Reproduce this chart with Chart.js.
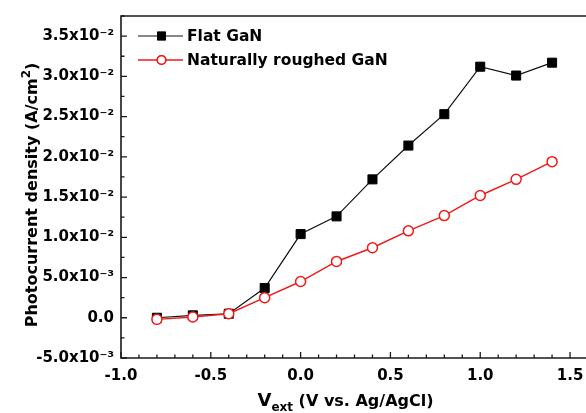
<!DOCTYPE html>
<html>
<head>
<meta charset="utf-8">
<script src="https://cdn.jsdelivr.net/npm/chart.js@4/dist/chart.umd.min.js"></script>
<style>
    html, body { margin: 0; padding: 0; background: #fff; overflow: hidden; }
    #wrap { width: 600px; height: 413px; }
</style>
</head>
<body>
<div id="wrap"><canvas id="chart" width="600" height="413"></canvas></div>
<script>
// bias voltage (V vs. Ag/AgCl)
const biasVoltage = [-0.8, -0.6, -0.4, -0.2, 0.0, 0.2, 0.4, 0.6, 0.8, 1.0, 1.2, 1.4];
// photocurrent density (A/cm2)
const flatGaN = [0.0000, 0.0003, 0.0005, 0.0037, 0.0104, 0.0126, 0.0172, 0.0214, 0.0253, 0.0312, 0.0301, 0.0317];
const roughGaN = [-0.0002, 0.0001, 0.0005, 0.0025, 0.0045, 0.0070, 0.0087, 0.0108, 0.0127, 0.0152, 0.0172, 0.0194];
const seriesNames = ['Flat GaN', 'Naturally roughed GaN'];
const xRange = [-1.0, 1.6];
const yRange = [-0.005, 0.0375];

const FONT = 'DejaVu Sans';
const AXIS_COLOR = '#1a1a1a';

const SUP = { '-': '\u207B', '0': '\u2070', '1': '\u00B9', '2': '\u00B2', '3': '\u00B3', '4': '\u2074',
              '5': '\u2075', '6': '\u2076', '7': '\u2077', '8': '\u2078', '9': '\u2079' };

function sciLabel(v) {
    if (Math.abs(v) < 1e-12) return '0.0';
    const [m, e] = v.toExponential(1).split('e');
    return m + 'x10' + e.split('').map(c => SUP[c] || '').join('');
}

function isMultiple(v, step) {
    return Math.abs(v / step - Math.round(v / step)) < 1e-6;
}

// frame, inward tick marks, legend and axis titles
const decorations = {
    id: 'decorations',
    afterDraw(chart) {
        const ctx = chart.ctx;
        const area = chart.chartArea;
        const xs = chart.scales.x;
        const ys = chart.scales.y;
        ctx.save();

        // frame (right side is off the picture)
        ctx.strokeStyle = AXIS_COLOR;
        ctx.lineWidth = 1.6;
        ctx.beginPath();
        ctx.moveTo(area.right, area.top);
        ctx.lineTo(area.left, area.top);
        ctx.lineTo(area.left, area.bottom);
        ctx.lineTo(area.right, area.bottom);
        ctx.stroke();

        // tick marks pointing inward
        ctx.lineWidth = 1.3;
        ctx.beginPath();
        xs.ticks.forEach(t => {
            const px = xs.getPixelForValue(t.value);
            const len = isMultiple(t.value, 0.5) ? 6 : 3.5;
            ctx.moveTo(px, area.bottom);
            ctx.lineTo(px, area.bottom - len);
        });
        ys.ticks.forEach(t => {
            const py = ys.getPixelForValue(t.value);
            const len = isMultiple(t.value, 0.005) ? 6 : 3.5;
            ctx.moveTo(area.left, py);
            ctx.lineTo(area.left + len, py);
        });
        ctx.stroke();

        // legend (markers a bit smaller than in the plot)
        chart.data.datasets.forEach((ds, i) => {
            const rowY = area.top + 20 + i * 24;
            const x0 = area.left + 17, x1 = area.left + 62;
            ctx.strokeStyle = ds.borderColor;
            ctx.lineWidth = ds.borderWidth;
            ctx.beginPath();
            ctx.moveTo(x0, rowY);
            ctx.lineTo(x1, rowY);
            ctx.stroke();
            Chart.helpers.drawPoint(ctx, {
                pointStyle: ds.pointStyle,
                radius: ds.pointRadius * 0.85,
                borderWidth: ds.pointBorderWidth,
                rotation: 0
            }, (x0 + x1) / 2 + 1, rowY);
            ctx.fillStyle = ds.pointBackgroundColor;
            ctx.strokeStyle = ds.pointBorderColor;
            ctx.lineWidth = ds.pointBorderWidth;
            ctx.fill();
            ctx.stroke();
            ctx.fillStyle = '#000';
            ctx.font = `bold 15.5px "${FONT}"`;
            ctx.textBaseline = 'middle';
            ctx.textAlign = 'left';
            ctx.fillText(ds.label, x1 + 4, rowY + 1);
        });

        // x axis title: V_ext (V vs. Ag/AgCl)
        ctx.fillStyle = '#000';
        ctx.textBaseline = 'alphabetic';
        ctx.textAlign = 'left';
        const big = `bold 16px "${FONT}"`, small = `bold 12px "${FONT}"`;
        const bigV = `bold 18px "${FONT}"`;
        ctx.font = bigV;
        const wV = ctx.measureText('V').width;
        ctx.font = big;
        const wRest = ctx.measureText(' (V vs. Ag/AgCl)').width;
        ctx.font = small;
        const wSub = ctx.measureText('ext').width;
        const cx = (area.left + xs.getPixelForValue(1.5)) / 2;
        let tx = cx - (wV + wSub + wRest) / 2;
        const base = 406;
        ctx.font = bigV;
        ctx.fillText('V', tx, base);
        tx += wV;
        ctx.font = small;
        ctx.fillText('ext', tx, base + 5);
        tx += wSub;
        ctx.font = big;
        ctx.fillText(' (V vs. Ag/AgCl)', tx, base);

        // y axis title: Photocurrent density (A/cm^2)
        ctx.save();
        ctx.translate(37, (area.top + area.bottom) / 2 + 8);
        ctx.rotate(-Math.PI / 2);
        ctx.font = big;
        const p1 = 'Photocurrent density (A/cm';
        const w1 = ctx.measureText(p1).width;
        const w3 = ctx.measureText(')').width;
        ctx.font = `bold 12px "${FONT}"`;
        const w2 = ctx.measureText('2').width;
        let ty = -(w1 + w2 + w3) / 2;
        ctx.font = big;
        ctx.fillText(p1, ty, 0);
        ty += w1;
        ctx.font = `bold 12px "${FONT}"`;
        ctx.fillText('2', ty, -7);
        ty += w2;
        ctx.font = big;
        ctx.fillText(')', ty, 0);
        ctx.restore();

        ctx.restore();
    }
};

const ctx = document.getElementById('chart').getContext('2d');
new Chart(ctx, {
    type: 'line',
    data: {
        datasets: [{
            label: seriesNames[0],
            data: biasVoltage.map((x, i) => ({ x: x, y: flatGaN[i] })),
            borderColor: '#111',
            borderWidth: 1.2,
            pointStyle: 'rect',
            pointRadius: 6.4,
            pointBackgroundColor: '#000',
            pointBorderColor: '#000',
            pointBorderWidth: 1,
            order: 1
        }, {
            label: seriesNames[1],
            data: biasVoltage.map((x, i) => ({ x: x, y: roughGaN[i] })),
            borderColor: '#f01a1a',
            borderWidth: 1.5,
            pointStyle: 'circle',
            pointRadius: 5,
            pointBackgroundColor: '#fff',
            pointBorderColor: '#f01a1a',
            pointBorderWidth: 1.5,
            order: 0
        }]
    },
    options: {
        responsive: false,
        animation: false,
        devicePixelRatio: 1,
        layout: { padding: { top: 12, right: 12, left: 0, bottom: 0 } },
        plugins: {
            legend: { display: false },
            tooltip: { enabled: false }
        },
        scales: {
            x: {
                type: 'linear',
                min: xRange[0],
                max: xRange[1],
                grid: { display: false, drawTicks: false },
                border: { display: false },
                ticks: {
                    stepSize: 0.1,
                    autoSkip: false,
                    maxRotation: 0,
                    padding: 9,
                    color: '#000',
                    font: { family: FONT, size: 15, weight: 'bold' },
                    callback: v => (isMultiple(v, 0.5) && v <= 1.5 + 1e-9) ? v.toFixed(1) : ''
                },
                afterFit: scale => { scale.height = 55; }
            },
            y: {
                min: yRange[0],
                max: yRange[1],
                grid: { display: false, drawTicks: false },
                border: { display: false },
                ticks: {
                    stepSize: 0.0025,
                    autoSkip: false,
                    padding: 7,
                    color: '#000',
                    font: { family: FONT, size: 15, weight: 'bold' },
                    callback: v => isMultiple(v, 0.005) && v < 0.036 ? sciLabel(v) : ''
                },
                afterFit: scale => { scale.width = 121; }
            }
        }
    },
    plugins: [decorations]
});
</script>
</body>
</html>
